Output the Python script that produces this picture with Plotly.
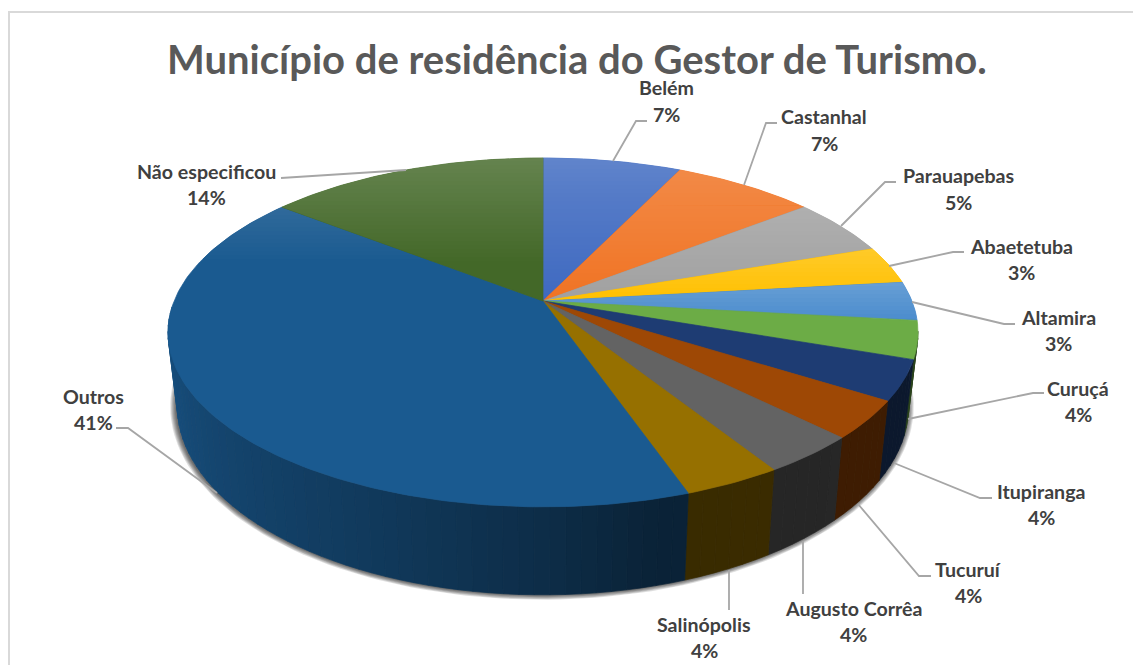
import numpy as np
import plotly.graph_objects as go

# ---- data ----
municipios = ["Belém", "Castanhal", "Parauapebas", "Abaetetuba", "Altamira", "Curuçá",
              "Itupiranga", "Tucuruí", "Augusto Corrêa", "Salinópolis", "Outros", "Não especificou"]
valores = [7.1, 7.3, 5.3, 3.5, 3.6, 3.5, 3.7, 3.5, 3.6, 3.6, 40.9, 14.4]
rotulos = ["7%", "7%", "5%", "3%", "3%", "4%", "4%", "4%", "4%", "4%", "41%", "14%"]
titulo = "Município de residência do Gestor de Turismo."

# ---- styles ----
cores = [(62, 105, 192), (240, 115, 35), (160, 160, 160), (255, 192, 0), (75, 140, 205), (108, 172, 70),
         (30, 60, 115), (158, 72, 5), (99, 99, 99), (150, 112, 0), (26, 90, 144), (67, 104, 40)]
FONT = "Lato, Carlito, sans-serif"

# ---- pie geometry (perspective projection of a disc, in page pixels) ----
CX, CY, A, B, K = 543.0, 301.0, 368.9, 168.8, 0.18
SX, SY, YB = 0.975, 1.08, 372.5


def rim(th):
    w = 1 + K * np.cos(th)
    return CX + A * np.sin(th) / w, CY - B * np.cos(th) / w


def base(th):
    x, y = rim(th)
    return CX + SX * (x - CX), YB + SY * (y - CY)


def shade(c, f):
    return "rgb(%d,%d,%d)" % tuple(int(round(v * f)) for v in c)


def lighten(c, t):
    return "rgb(%d,%d,%d)" % tuple(int(round(v + (255 - v) * t)) for v in c)


def clip(poly, y0, y1):
    def cut(pts, keep, ycut):
        out = []
        for i in range(len(pts)):
            p, q = pts[i - 1], pts[i]
            kp, kq = keep(p[1]), keep(q[1])
            if kp != kq:
                s = (ycut - p[1]) / (q[1] - p[1])
                out.append((p[0] + s * (q[0] - p[0]), ycut))
            if kq:
                out.append(q)
        return out
    pts = cut(poly, lambda y: y >= y0, y0)
    if pts:
        pts = cut(pts, lambda y: y <= y1, y1)
    return pts


def wall_factor(th):
    return float(np.interp(np.degrees(th), [100, 165, 180, 205, 235, 268], [0.40, 0.38, 0.50, 0.65, 0.78, 0.92]))


fig = go.Figure()


def poly_trace(xs, ys, color, lw=0.7):
    xs, ys = list(xs), list(ys)
    xs.append(xs[0])
    ys.append(ys[0])
    fig.add_trace(go.Scatter(x=xs, y=ys, mode="lines", fill="toself", fillcolor=color,
                             line=dict(color=color, width=lw),
                             hoverinfo="skip", showlegend=False))


limites = np.radians(np.concatenate([[0], np.cumsum(valores)]) / sum(valores) * 360)

# soft shadow under the pie
tt = np.linspace(0, 2 * np.pi, 240)
bx, by = base(tt)
for off in range(6, 0, -1):
    ex = CX + (bx - CX) * (1 + off / 360) - 1
    ey = (YB + SY * 32) + (by - (YB + SY * 32)) * (1 + off / 230)
    poly_trace(ex, ey, "rgba(0,0,0,0.13)", lw=0)

# side wall: narrow strips, sides first and the front last
faixas = []
for i in range(len(valores)):
    a0, a1 = max(limites[i], np.radians(100)), min(limites[i + 1], np.radians(268))
    if a1 <= a0:
        continue
    n = max(1, int(np.degrees(a1 - a0) / 2))
    ed = np.linspace(a0, a1, n + 1)
    for j in range(n):
        faixas.append((i, ed[j], ed[j + 1]))
faixas.sort(key=lambda f: -abs(np.degrees((f[1] + f[2]) / 2) - 180))
for i, a0, a1 in faixas:
    x0, y0 = rim(np.linspace(a0, a1, 4))
    x1, y1 = base(np.linspace(a1, a0, 4))
    poly_trace(np.r_[x0, x1], np.r_[y0, y1], shade(cores[i], wall_factor((a0 + a1) / 2)))

# top face: each slice cut in horizontal bands for the vertical light gradient
BAND = 4
for i in range(len(valores)):
    ang = np.linspace(limites[i], limites[i + 1], max(6, int(np.degrees(limites[i + 1] - limites[i]))))
    rx, ry = rim(ang)
    sector = [(CX, CY)] + list(zip(rx, ry))
    poly_trace([p[0] for p in sector], [p[1] for p in sector], shade(cores[i], 1.0))
    ys = [p[1] for p in sector]
    ymin, ymax = min(ys), max(ys)
    y = np.floor(ymin)
    while y < ymax:
        yc = y + BAND / 2
        t = 0.18 * max(0.0, 1 - (yc - 158) / 105)
        if i <= 4:
            t = max(t, 0.16 * max(0.0, 1 - (yc - ymin) / max(ymax - ymin, 1)))
        if t > 0.004:
            pts = clip(sector, y, y + BAND)
            if len(pts) >= 3:
                poly_trace([p[0] for p in pts], [p[1] for p in pts], lighten(cores[i], t), lw=0)
        y += BAND

# leader lines
guias = [[(613, 161), (636, 121), (647, 121)], [(744, 185), (766, 123), (777, 123)],
         [(841, 226), (885, 182), (896, 182)], [(889, 266), (953, 252), (964, 252)],
         [(912, 302), (1004, 324), (1015, 324)], [(908, 419), (1033, 393), (1044, 393)],
         [(894, 463), (980, 498), (992, 498)], [(858, 504), (919, 576), (931, 576)],
         [(803, 541), (803, 594)], [(729, 570), (729, 610)],
         [(217, 493), (128, 428), (116, 428)], [(406, 170), (281, 178)]]
for g in guias:
    fig.add_trace(go.Scatter(x=[p[0] for p in g], y=[p[1] for p in g], mode="lines",
                             line=dict(color="#a6a6a6", width=1.8), hoverinfo="skip", showlegend=False))

# labels
pos = [(666, 87, 114), (824, 116, 143), (958, 175, 202), (1021, 246, 272), (1058, 317, 343), (1078, 388, 414),
       (1041, 491, 517), (968, 569, 595), (853, 608, 634), (704, 624, 650), (93, 396, 422), (206, 171, 197)]
ann = []
for nome, rot, (x, y1, y2) in zip(municipios, rotulos, pos):
    for txt, yy in ((nome, y1), (rot, y2)):
        ann.append(dict(x=x, y=yy, xref="x", yref="y", text="<b>%s</b>" % txt, showarrow=False,
                        font=dict(family=FONT, size=19.6, color="#404040"), xanchor="center", yanchor="middle"))
ann.append(dict(x=577, y=59, xref="x", yref="y", text="<b>%s</b>" % titulo, showarrow=False,
                font=dict(family=FONT, size=40, color="#595959"), xanchor="center", yanchor="middle"))

fig.update_layout(
    width=1133, height=665, margin=dict(l=0, r=0, t=0, b=0), autosize=False,
    paper_bgcolor="white", plot_bgcolor="white", annotations=ann, showlegend=False,
    xaxis=dict(range=[0, 1133], visible=False, fixedrange=True),
    yaxis=dict(range=[665, 0], visible=False, fixedrange=True),
    shapes=[dict(type="path", path="M 9 670 L 9 12 L 1140 12", xref="x", yref="y",
                 line=dict(color="#d9d9d9", width=2), layer="below")],
)
fig.write_html("out.html", config={"displayModeBar": False},
               post_script="document.body.style.margin='0';document.body.style.overflow='hidden';")
